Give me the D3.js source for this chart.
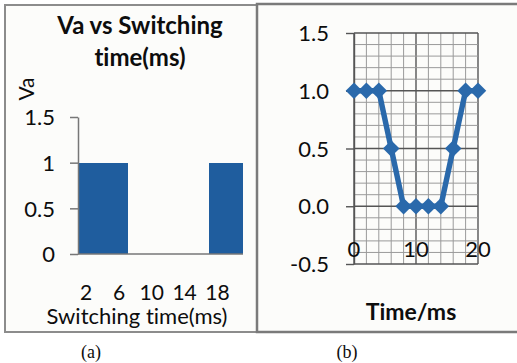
<!DOCTYPE html>
<html>
<head>
<meta charset="utf-8">
<script src="https://cdn.jsdelivr.net/npm/d3@7"></script>
<style>
  body { margin: 0; background: #fff; }
  svg text { font-family: Lato, "Open Sans", sans-serif; fill: #0d0d0d; font-variant-ligatures: none; }
</style>
</head>
<body>
<div id="fig"></div>
<script>
// (a) bar chart
const switchTimes = [2, 4, 6, 8, 10, 12, 14, 16, 18, 20];
const switchVa = [1, 1, 1, 0, 0, 0, 0, 0, 1, 1];
const barTicks = [0, 0.5, 1, 1.5];
// (b) line chart
const times = [0, 2, 4, 6, 8, 10, 12, 14, 16, 18, 20];
const va = [1, 1, 1, 0.5, 0, 0, 0, 0, 0.5, 1, 1];
const lineYTicks = [-0.5, 0, 0.5, 1, 1.5];
const lineXTicks = [0, 10, 20];

const width = 517, height = 363;
const blue = '#1f5d9e';
const lineBlue = '#2a69ab';

const svg = d3.select('#fig').append('svg')
  .attr('width', width)
  .attr('height', height);

// panel frames
svg.append('rect')
  .attr('x', 5).attr('y', 5).attr('width', 253).attr('height', 327)
  .attr('fill', '#fcfcfa').attr('stroke', '#8c8c8c').attr('stroke-width', 2);
svg.append('rect')
  .attr('x', 257).attr('y', 4).attr('width', 270).attr('height', 328)
  .attr('fill', '#fcfcfa').attr('stroke', '#7a7a7a').attr('stroke-width', 2.5);

// ---------- (a) ----------
const x1 = d3.scaleBand().domain(switchTimes).range([78, 242]).padding(0);
const y1 = d3.scaleLinear().domain([0, 1.5]).range([254, 117]);

const g1 = svg.append('g');

g1.selectAll('rect.bar')
  .data(switchTimes)
  .join('rect')
  .attr('class', 'bar')
  .attr('x', d => x1(d))
  .attr('width', x1.bandwidth() + 0.6)
  .attr('y', (d, i) => y1(switchVa[i]))
  .attr('height', (d, i) => y1(0) - y1(switchVa[i]))
  .attr('fill', blue)
  .attr('shape-rendering', 'crispEdges');

const yAxis1 = g1.append('g')
  .attr('transform', 'translate(78,0)')
  .call(d3.axisLeft(y1).tickValues(barTicks).tickSize(8).tickSizeOuter(0)
    .tickFormat(d => String(d)));
yAxis1.select('.domain').attr('stroke', '#777').attr('stroke-width', 1.5);
yAxis1.selectAll('line').attr('stroke', '#777').attr('stroke-width', 1.5);
yAxis1.selectAll('text').attr('x', -23).attr('dy', '0.35em')
  .style('font-size', '22px').style('font-family', 'Lato, sans-serif').style('fill', '#0d0d0d');

g1.append('line')
  .attr('x1', 78).attr('x2', 243)
  .attr('y1', y1(0)).attr('y2', y1(0))
  .attr('stroke', '#777').attr('stroke-width', 1.5);

g1.selectAll('text.xlab')
  .data(switchTimes.filter((d, i) => i % 2 === 0))
  .join('text')
  .attr('class', 'xlab')
  .attr('x', d => x1(d) + x1.bandwidth() / 2)
  .attr('y', 300)
  .attr('text-anchor', 'middle')
  .style('font-size', '21px')
  .text(d => d);

g1.append('text')
  .attr('x', 137).attr('y', 324)
  .attr('text-anchor', 'middle')
  .style('font-size', '22px')
  .text('Switching time(ms)');

g1.append('text')
  .attr('transform', 'translate(34,89) rotate(-90)')
  .attr('text-anchor', 'middle')
  .style('font-size', '21px')
  .text('Va');

g1.append('text')
  .attr('x', 140).attr('y', 34)
  .attr('text-anchor', 'middle')
  .style('font-size', '24px').style('font-weight', 'bold')
  .text('Va vs Switching');
g1.append('text')
  .attr('x', 140).attr('y', 66)
  .attr('text-anchor', 'middle')
  .style('font-size', '24px').style('font-weight', 'bold')
  .text('time(ms)');

// ---------- (b) ----------
const x2 = d3.scaleLinear().domain([0, 20]).range([354, 478]);
const y2 = d3.scaleLinear().domain([-0.5, 1.5]).range([264, 33]);

const g2 = svg.append('g');

const minorX = d3.range(0, 20.01, 2);
const minorY = d3.range(-5, 15.01, 1).map(d => d / 10);
const isMajorY = d => Math.abs(d * 2 - Math.round(d * 2)) < 1e-6;

g2.selectAll('line.vx')
  .data(minorX)
  .join('line')
  .attr('x1', d => x2(d)).attr('x2', d => x2(d))
  .attr('y1', y2(1.5)).attr('y2', y2(-0.5))
  .attr('stroke', d => d % 10 === 0 ? '#555' : '#9a9a9a')
  .attr('stroke-width', d => d % 10 === 0 ? 1.4 : 1);

g2.selectAll('line.hy')
  .data(minorY)
  .join('line')
  .attr('x1', x2(0)).attr('x2', x2(20))
  .attr('y1', d => y2(d)).attr('y2', d => y2(d))
  .attr('stroke', d => isMajorY(d) ? '#555' : '#9a9a9a')
  .attr('stroke-width', d => isMajorY(d) ? 1.4 : 1);

const yAxis2 = g2.append('g')
  .attr('transform', `translate(${x2(0)},0)`)
  .call(d3.axisLeft(y2).tickValues(lineYTicks).tickSize(8).tickSizeOuter(0)
    .tickFormat(d => d3.format('.1f')(d).replace('\u2212', '-')));
yAxis2.select('.domain').attr('stroke', '#555').attr('stroke-width', 1.4);
yAxis2.selectAll('line').attr('stroke', '#555').attr('stroke-width', 1.4);
yAxis2.selectAll('text').attr('x', -25).attr('dy', '0.35em')
  .style('font-size', '22px').style('font-family', 'Lato, sans-serif').style('fill', '#0d0d0d');

g2.append('path')
  .datum(times)
  .attr('fill', 'none')
  .attr('stroke', lineBlue)
  .attr('stroke-width', 5.5)
  .attr('stroke-linejoin', 'round')
  .attr('d', d3.line().x(d => x2(d)).y((d, i) => y2(va[i])));

g2.selectAll('path.pt')
  .data(times)
  .join('path')
  .attr('class', 'pt')
  .attr('transform', (d, i) => `translate(${x2(d)},${y2(va[i])})`)
  .attr('d', d3.symbol(d3.symbolDiamond2, 175))
  .attr('fill', lineBlue);

g2.selectAll('text.xl')
  .data(lineXTicks)
  .join('text')
  .attr('class', 'xl')
  .attr('x', d => x2(d))
  .attr('y', 257)
  .attr('text-anchor', 'middle')
  .style('font-size', '22px')
  .text(d => d);

g2.append('text')
  .attr('x', 411).attr('y', 320)
  .attr('text-anchor', 'middle')
  .style('font-size', '23px').style('font-weight', 'bold')
  .text('Time/ms');

// captions
svg.append('text')
  .attr('x', 91).attr('y', 358)
  .attr('text-anchor', 'middle')
  .style('font-family', '"Liberation Serif", "DejaVu Serif", serif')
  .style('font-size', '18px')
  .text('(a)');
svg.append('text')
  .attr('x', 347).attr('y', 358)
  .attr('text-anchor', 'middle')
  .style('font-family', '"Liberation Serif", "DejaVu Serif", serif')
  .style('font-size', '18px')
  .text('(b)');
</script>
</body>
</html>
